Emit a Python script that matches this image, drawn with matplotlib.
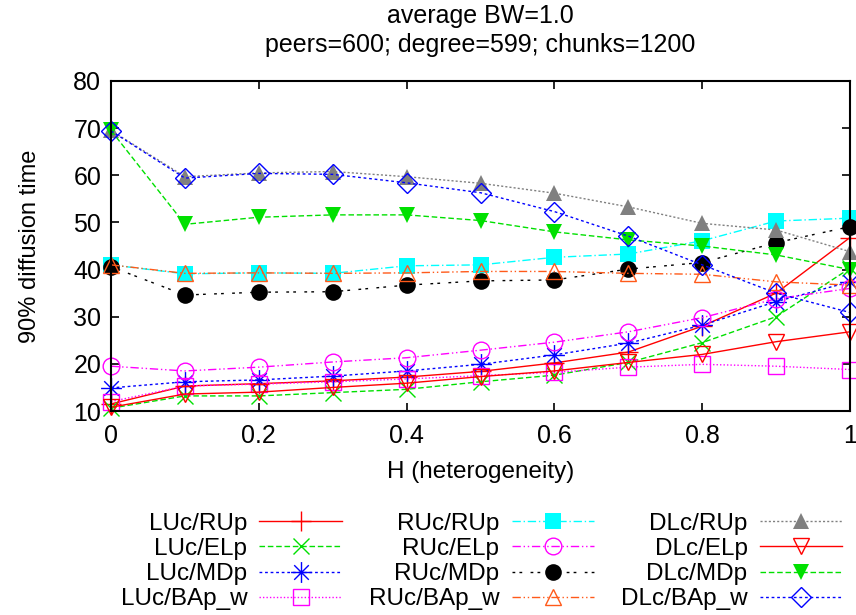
import matplotlib
matplotlib.use("Agg")
import matplotlib.pyplot as plt
from matplotlib.path import Path
from matplotlib.ticker import FuncFormatter

plt.rcParams["font.family"] = ["Liberation Sans", "DejaVu Sans"]

H = [0.0, 0.1, 0.2, 0.3, 0.4, 0.5, 0.6, 0.7, 0.8, 0.9, 1.0]

luc_rup = [11.5, 15.3, 15.8, 16.4, 17.2, 18.4, 20.2, 22.5, 28.0, 35.0, 46.8]
luc_elp = [10.6, 13.2, 13.2, 13.9, 14.6, 16.2, 17.6, 20.3, 24.5, 30.0, 40.3]
luc_mdp = [14.9, 16.2, 16.6, 17.4, 18.5, 19.9, 21.9, 24.4, 28.2, 33.2, 37.4]
luc_bap = [12.0, 15.3, 15.7, 16.2, 16.8, 17.5, 18.2, 19.3, 19.9, 19.5, 18.8]

ruc_rup = [41.0, 39.1, 39.3, 39.2, 40.8, 41.0, 42.6, 43.3, 46.1, 50.3, 50.9]
ruc_elp = [19.5, 18.5, 19.3, 20.4, 21.3, 22.9, 24.6, 26.8, 29.8, 33.8, 36.0]
ruc_mdp = [40.6, 34.6, 35.2, 35.3, 36.7, 37.6, 37.8, 40.1, 41.5, 45.7, 49.1]
ruc_bap = [41.0, 39.2, 39.3, 39.2, 39.3, 39.6, 39.6, 39.2, 39.0, 37.4, 36.7]

dlc_rup = [69.5, 59.7, 60.5, 60.8, 59.7, 58.3, 56.2, 53.3, 49.8, 48.4, 43.8]
dlc_elp = [10.8, 13.6, 14.0, 15.0, 15.9, 17.3, 18.5, 20.3, 22.0, 24.7, 26.8]
dlc_mdp = [69.5, 49.6, 51.1, 51.6, 51.6, 50.4, 48.0, 46.3, 45.0, 43.1, 40.0]
dlc_bap = [69.4, 59.4, 60.4, 60.2, 58.4, 56.3, 52.3, 47.1, 41.0, 35.0, 30.9]

# gnuplot style asterisk: plus and cross overlaid
star = Path(
    [(-1, 0), (1, 0), (0, -1), (0, 1), (-0.7, -0.7), (0.7, 0.7), (-0.7, 0.7), (0.7, -0.7)],
    [Path.MOVETO, Path.LINETO] * 4,
)

orange = "#ff5a1a"
series = [
    ("LUc/RUp", luc_rup, dict(color="red", ls="-", marker="+", ms=15, mew=1)),
    ("LUc/ELp", luc_elp, dict(color="#00e000", ls=(0, (4, 2)), marker="x", ms=12, mew=1)),
    ("LUc/MDp", luc_mdp, dict(color="blue", ls=(0, (2, 2)), marker=star, ms=15, mew=1)),
    ("LUc/BAp_w", luc_bap, dict(color="magenta", ls=(0, (1, 1.5)), marker="s", ms=12, mfc="none", mew=1)),
    ("RUc/RUp", ruc_rup, dict(color="cyan", ls=(0, (6, 2, 1, 2)), marker="s", ms=12, mew=0)),
    ("RUc/ELp", ruc_elp, dict(color="magenta", ls=(0, (6, 2, 1, 2, 1, 2)), marker="o", ms=12, mfc="none", mew=1)),
    ("RUc/MDp", ruc_mdp, dict(color="black", ls=(0, (2, 3, 2, 6)), marker="o", ms=12, mew=0)),
    ("RUc/BAp_w", ruc_bap, dict(color=orange, ls=(0, (6, 2, 1, 2, 1, 2)), marker="^", ms=12, mfc="none", mew=1)),
    ("DLc/RUp", dlc_rup, dict(color="gray", ls=(0, (1.5, 1.5)), marker="^", ms=12, mew=0)),
    ("DLc/ELp", dlc_elp, dict(color="red", ls="-", marker="v", ms=12, mfc="none", mew=1)),
    ("DLc/MDp", dlc_mdp, dict(color="#00e000", ls=(0, (4, 2)), marker="v", ms=12, mew=0)),
    ("DLc/BAp_w", dlc_bap, dict(color="blue", ls=(0, (2, 2)), marker="D", ms=10, mfc="none", mew=1)),
]

fig = plt.figure(figsize=(8.56, 6.15), dpi=100)
ax = fig.add_axes([0.1297, 0.3317, 0.8633, 0.5366])

for label, ys, style in series:
    ax.plot(H, ys, label=label, lw=1, clip_on=False, **style)

ax.set_xlim(0, 1)
ax.set_ylim(10, 80)
ax.set_xticks([0, 0.2, 0.4, 0.6, 0.8, 1.0])
ax.set_yticks(range(10, 81, 10))
ax.xaxis.set_major_formatter(FuncFormatter(lambda v, p: f"{v:g}"))
ax.tick_params(direction="in", length=6, width=1.2, top=True, right=True,
               labelsize=18)
ax.tick_params(axis="x", pad=9)
ax.tick_params(axis="y", pad=7)
for spine in ax.spines.values():
    spine.set_linewidth(1.5)

ax.set_xlabel("H (heterogeneity)", fontsize=17.5, labelpad=10)
ax.set_ylabel("90% diffusion time", fontsize=17, labelpad=23)
ax.set_title("average BW=1.0\npeers=600; degree=599; chunks=1200",
             fontsize=18, pad=21, linespacing=1.25)

fig.legend(loc="center", bbox_to_anchor=(0.5625, 0.087), ncol=3,
           markerfirst=False, frameon=False, fontsize=17.5,
           handlelength=3.4, handletextpad=0.5, columnspacing=1.1,
           labelspacing=0.13, borderpad=0)

fig.savefig("out.png", dpi=100)
